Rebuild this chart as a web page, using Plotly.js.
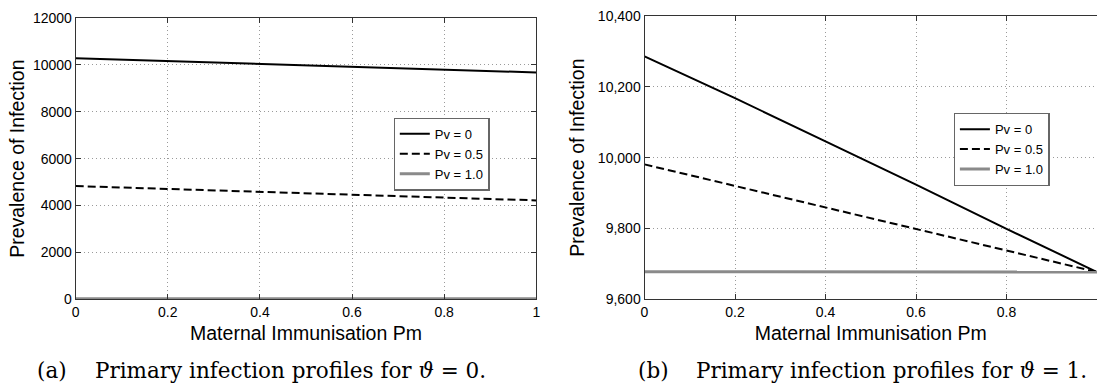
<!DOCTYPE html>
<html>
<head>
<meta charset="utf-8">
<script src="https://cdn.plot.ly/plotly-3.0.1.min.js"></script>
<style>html,body{margin:0;padding:0;background:#fff;}#chart{width:1097px;height:385px;}</style>
</head>
<body>
<div id="chart"></div>
<script>
// Maternal immunisation Pm (x values)
const pm = [0, 0.2, 0.4, 0.6, 0.8, 1.0];
const seriesNames = ['Pv = 0', 'Pv = 0.5', 'Pv = 1.0'];

// (a) theta = 0
const a_pv0  = [10286, 10168, 10046, 9924, 9799, 9677];
const a_pv05 = [4830, 4700, 4580, 4460, 4340, 4220];
const a_pv1  = [20, 20, 20, 20, 20, 20];

// (b) theta = 1
const b_pv0  = [10286, 10168, 10046, 9924, 9799, 9677];
const b_pv05 = [9981, 9920, 9860, 9797, 9738, 9677];
const b_pv1  = [9678, 9678, 9677, 9677, 9677, 9677];

const xTicksA = [0, 0.2, 0.4, 0.6, 0.8, 1];
const yTicksA = [0, 2000, 4000, 6000, 8000, 10000, 12000];
const yTicksB = [9600, 9800, 10000, 10200, 10400];

const captionA = ['(a)', 'Primary infection profiles for <i>ϑ</i> = 0.'];
const captionB = ['(b)', 'Primary infection profiles for <i>ϑ</i> = 1.'];

const styles = [
  {color: '#000000', width: 2, dash: 'solid'},
  {color: '#000000', width: 2, dash: '8px,4px'},
  {color: '#8a8a8a', width: 3, dash: 'solid'}
];

const aSets = [a_pv0, a_pv05, a_pv1];
const bSets = [b_pv0, b_pv05, b_pv1];
const traces = [];
aSets.forEach((ys, i) => traces.push({
  x: pm, y: ys, name: seriesNames[i], type: 'scatter', mode: 'lines',
  line: styles[i], xaxis: 'x', yaxis: 'y', legend: 'legend'
}));
bSets.forEach((ys, i) => traces.push({
  x: pm, y: ys, name: seriesNames[i], type: 'scatter', mode: 'lines',
  line: styles[i], xaxis: 'x2', yaxis: 'y2', legend: 'legend2'
}));

const W = 1097, H = 385;
const sans = 'Liberation Sans, Arial, sans-serif';
const serif = 'DejaVu Serif, serif';
const axisCommon = {
  showline: true, linecolor: '#333', linewidth: 1,
  ticks: 'inside', ticklen: 5, tickcolor: '#333', tickwidth: 1,
  showgrid: true, gridcolor: '#9a9a9a', gridwidth: 1, griddash: '1px,3px',
  zeroline: false, tickfont: {family: sans, size: 14, color: '#000'},
  automargin: false
};
const titleFont = {family: sans, size: 19.5, color: '#000'};

const layout = {
  width: W, height: H,
  margin: {l: 0, r: 0, t: 0, b: 0},
  paper_bgcolor: '#fff', plot_bgcolor: '#fff',
  showlegend: true,
  xaxis: Object.assign({}, axisCommon, {
    domain: [75.7 / W, 536.3 / W], range: [0, 1], tickvals: xTicksA, mirror: 'ticks',
    anchor: 'y', title: {text: 'Maternal Immunisation Pm', font: titleFont, standoff: 7}
  }),
  yaxis: Object.assign({}, axisCommon, {
    domain: [(H - 299.3) / H, (H - 18) / H], range: [0, 12000], tickvals: yTicksA, tickformat: 'd',
    mirror: 'ticks', anchor: 'x', title: {text: 'Prevalence of Infection', font: titleFont, standoff: 3}
  }),
  xaxis2: Object.assign({}, axisCommon, {
    domain: [644.5 / W, 1], range: [0, 1], tickvals: xTicksA, mirror: 'ticks',
    anchor: 'y2', title: {text: 'Maternal Immunisation Pm', font: titleFont, standoff: 7}
  }),
  yaxis2: Object.assign({}, axisCommon, {
    domain: [(H - 299.3) / H, (H - 16) / H], range: [9600, 10400], tickvals: yTicksB, tickformat: ',d',
    mirror: false, anchor: 'x2', title: {text: 'Prevalence of Infection', font: titleFont, standoff: 8}
  }),
  legend: {
    x: 393.5 / W, y: (H - 117.6) / H, xanchor: 'left', yanchor: 'top',
    bgcolor: '#fff', bordercolor: '#666', borderwidth: 1.3,
    font: {family: sans, size: 13, color: '#000'}, tracegroupgap: 0
  },
  legend2: {
    x: 953.6 / W, y: (H - 112.9) / H, xanchor: 'left', yanchor: 'top',
    bgcolor: '#fff', bordercolor: '#666', borderwidth: 1.3,
    font: {family: sans, size: 13, color: '#000'}, tracegroupgap: 0
  },
  annotations: [
    {text: captionA[0], x: 35 / W, xanchor: 'left'},
    {text: captionA[1], x: 93 / W, xanchor: 'left'},
    {text: captionB[0], x: 636 / W, xanchor: 'left'},
    {text: captionB[1], x: 694 / W, xanchor: 'left'}
  ].map(a => Object.assign(a, {
    xref: 'paper', yref: 'paper', y: (H - 370) / H, yanchor: 'middle',
    showarrow: false, font: {family: serif, size: 21.5, color: '#000'}
  }))
};

Plotly.newPlot('chart', traces, layout, {staticPlot: true, displayModeBar: false});
</script>
</body>
</html>
